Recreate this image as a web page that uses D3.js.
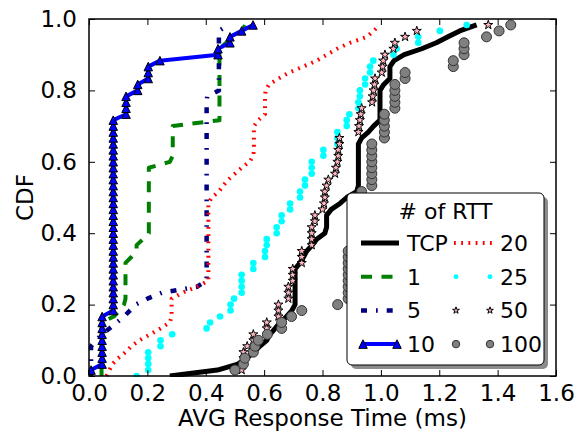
<!DOCTYPE html>
<html>
<head>
<meta charset="utf-8">
<script src="https://cdn.jsdelivr.net/npm/d3@7"></script>
<style>
  body { margin: 0; background: #fff; }
  svg { display: block; font-family: "DejaVu Sans", sans-serif; }
</style>
</head>
<body>
<div id="chart"></div>
<script>
// sorted AVG response times (ms) per setting
const tcpTimes = [0.277, 0.44, 0.51, 0.54, 0.565, 0.585, 0.609, 0.62, 0.638, 0.655, 0.677, 0.695,
  0.706, 0.706, 0.706, 0.706, 0.706, 0.706, 0.706,
  0.723, 0.735, 0.746, 0.765, 0.78, 0.808,
  0.814, 0.814, 0.814,
  0.83, 0.86, 0.883, 0.917,
  0.923, 0.923, 0.923, 0.923, 0.923, 0.923, 0.923, 0.923,
  0.934, 0.957, 0.975,
  0.997, 0.997, 0.997, 0.997, 0.997, 0.997,
  1.01, 1.031, 1.031, 1.031,
  1.045, 1.08, 1.14, 1.19, 1.23, 1.27, 1.328];
const rtt1Times = [0.043, 0.043, 0.043, 0.043, 0.043, 0.043, 0.043, 0.043, 0.043, 0.043,
  0.085, 0.105, 0.12,
  0.125, 0.125, 0.125, 0.125, 0.125, 0.125, 0.125,
  0.145, 0.163, 0.163, 0.185,
  0.205, 0.205, 0.205, 0.205, 0.205, 0.205, 0.205, 0.205, 0.205, 0.205, 0.205, 0.205,
  0.277,
  0.287, 0.287, 0.287, 0.287, 0.287, 0.287,
  0.447, 0.447, 0.447, 0.447, 0.447, 0.447, 0.447, 0.447, 0.447, 0.447, 0.447, 0.447, 0.447,
  0.47, 0.50, 0.525, 0.535];
const rtt5Times = [0.007, 0.007, 0.007, 0.007, 0.007, 0.007,
  0.025, 0.045, 0.07, 0.095, 0.12, 0.14, 0.16, 0.2, 0.25, 0.37,
  0.403, 0.403, 0.403, 0.403, 0.403, 0.403, 0.403, 0.403, 0.403, 0.403,
  0.403, 0.403, 0.403, 0.403, 0.403, 0.403, 0.403, 0.403, 0.403, 0.403,
  0.403, 0.403, 0.403, 0.403, 0.403, 0.403, 0.403, 0.403, 0.403, 0.403, 0.403,
  0.405,
  0.445, 0.445, 0.445, 0.445, 0.445, 0.445, 0.445, 0.445, 0.445, 0.445, 0.445,
  0.476];
const rtt10Times = [0.007,
  0.045, 0.045, 0.045, 0.045, 0.045, 0.045, 0.045, 0.045, 0.045,
  0.083, 0.083, 0.083, 0.083, 0.083, 0.083, 0.083, 0.083, 0.083, 0.083, 0.083,
  0.083, 0.083, 0.083, 0.083, 0.083, 0.083, 0.083, 0.083, 0.083, 0.083, 0.083,
  0.083, 0.083, 0.083, 0.083, 0.083, 0.083, 0.083, 0.083, 0.083, 0.083, 0.083,
  0.127, 0.127, 0.127, 0.127,
  0.167, 0.167,
  0.203, 0.203, 0.203,
  0.243, 0.442, 0.442, 0.483, 0.483, 0.523, 0.562];
const rtt20Times = [0.06, 0.07, 0.08, 0.10, 0.125, 0.145, 0.173, 0.21, 0.245, 0.277,
  0.283, 0.283, 0.283, 0.283,
  0.32, 0.37,
  0.409, 0.409, 0.409, 0.409, 0.409, 0.409, 0.409, 0.409, 0.409, 0.409, 0.409, 0.409, 0.409, 0.409,
  0.42, 0.445, 0.46, 0.477, 0.50, 0.523, 0.55, 0.563,
  0.565, 0.565, 0.565, 0.565, 0.565,
  0.58, 0.603, 0.603, 0.603, 0.603, 0.605,
  0.617, 0.65, 0.685, 0.734, 0.78, 0.815, 0.85, 0.894, 0.952, 0.975, 0.997];
const rtt25Times = [0.163, 0.203, 0.203, 0.203, 0.203, 0.245, 0.245, 0.285, 0.403, 0.415, 0.449,
  0.485, 0.485, 0.497, 0.523, 0.523, 0.523, 0.523, 0.563, 0.563, 0.603, 0.603,
  0.609, 0.609, 0.643, 0.643, 0.66, 0.66, 0.689, 0.689, 0.723, 0.723, 0.74, 0.74,
  0.763, 0.763, 0.763, 0.803, 0.803, 0.851, 0.851, 0.851, 0.883, 0.883, 0.892,
  0.923, 0.923, 0.928, 0.928, 0.946, 0.946, 0.963, 0.963, 0.974,
  1.043, 1.054, 1.128, 1.128, 1.202, 1.294];
const rtt50Times = [0.523, 0.529, 0.529, 0.529, 0.542, 0.563, 0.563, 0.609, 0.609,
  0.649, 0.649, 0.649, 0.683, 0.683, 0.683, 0.698, 0.698, 0.698, 0.729, 0.729, 0.729,
  0.763, 0.763, 0.763, 0.763, 0.774, 0.774, 0.80, 0.805, 0.808,
  0.808, 0.814, 0.82, 0.843, 0.846, 0.851, 0.854, 0.854, 0.858, 0.858,
  0.923, 0.925, 0.928, 0.931, 0.934,
  0.97, 0.972, 0.975, 0.978, 0.98,
  1.003, 1.006, 1.008, 1.014,
  1.043, 1.048, 1.083, 1.123, 1.368];
const rtt100Times = [0.50, 0.529, 0.534, 0.563, 0.569, 0.58, 0.611, 0.66, 0.66, 0.694, 0.729, 0.852,
  0.888, 0.888, 0.888, 0.888, 0.888, 0.888, 0.888, 0.888, 0.888,
  0.91, 0.91, 0.91, 0.91, 0.91, 0.91, 0.91, 0.91, 0.91,
  0.934,
  0.969, 0.969, 0.969, 0.969, 0.969, 0.969, 0.969, 0.969,
  1.012, 1.012, 1.012, 1.012, 1.012,
  1.048, 1.048, 1.048, 1.048, 1.048,
  1.083, 1.083, 1.248, 1.248, 1.285, 1.285, 1.285, 1.362, 1.405, 1.445];

const seriesLabels = ["TCP", "1", "5", "10", "20", "25", "50", "100"];
const seriesTimes = [tcpTimes, rtt1Times, rtt5Times, rtt10Times, rtt20Times, rtt25Times, rtt50Times, rtt100Times];
const firstRank = [0, 0, 0, 1, 0, 0, 1, 1]; // rank of the first sample (CDF step = 1/60)
const cdfSteps = 60;
const xTicks = [0, 0.2, 0.4, 0.6, 0.8, 1.0, 1.2, 1.4, 1.6];
const yTicks = [0, 0.2, 0.4, 0.6, 0.8, 1.0];

const W = 587, H = 446;
const margin = { top: 19, right: 31, bottom: 70, left: 89 };
const pw = W - margin.left - margin.right;
const ph = H - margin.top - margin.bottom;

// matplotlib-ish styles
const styles = {
  "TCP": { stroke: "#000", width: 5 },
  "1": { stroke: "#008000", width: 4, dash: "11,9.5" },
  "5": { stroke: "#000080", width: 4.5, dash: "6,9,1.7,9" },
  "10": { stroke: "#0000ff", width: 4, marker: "tri", fill: "#0000ff", size: 8.5 },
  "20": { stroke: "#ff0000", width: 4, dash: "1.8,5.4" },
  "25": { marker: "circle", fill: "#00ffff", edge: "none", size: 6.6 },
  "50": { marker: "star", fill: "#ffb6c1", size: 9.5 },
  "100": { marker: "circle", fill: "#808080", edge: "#333", size: 10 },
};

const svg = d3.select("#chart").append("svg").attr("width", W).attr("height", H);

const x = d3.scaleLinear().domain([0, 1.6]).range([0, pw]);
const y = d3.scaleLinear().domain([0, 1]).range([ph, 0]);

svg.append("defs").append("clipPath").attr("id", "plotclip")
  .append("rect").attr("x", -1).attr("y", -1).attr("width", pw + 2).attr("height", ph + 2);

const g = svg.append("g").attr("transform", `translate(${margin.left},${margin.top})`);

function markerPath(type, size) {
  const r = size / 2;
  if (type === "tri") {
    return `M0,${-r}L${-r},${r}L${r},${r}Z`;
  }
  if (type === "star") {
    const inner = r * 0.381966;
    let p = "";
    for (let k = 0; k < 10; k++) {
      const rad = k % 2 === 0 ? r : inner;
      const a = -Math.PI / 2 + k * Math.PI / 5;
      p += (k === 0 ? "M" : "L") + (rad * Math.cos(a)).toFixed(2) + "," + (rad * Math.sin(a)).toFixed(2);
    }
    return p + "Z";
  }
  return d3.symbol(d3.symbolCircle, Math.PI * r * r)();
}

const plot = g.append("g").attr("clip-path", "url(#plotclip)");

seriesLabels.forEach((label, si) => {
  const st = styles[label];
  const pts = seriesTimes[si].map((t, i) => ({ x: t, y: (i + firstRank[si]) / cdfSteps }));
  if (st.stroke) {
    plot.append("path")
      .datum(pts)
      .attr("fill", "none")
      .attr("stroke", st.stroke)
      .attr("stroke-width", st.width)
      .attr("stroke-dasharray", st.dash || null)
      .attr("stroke-linejoin", "round")
      .attr("d", d3.line().x(d => x(d.x)).y(d => y(d.y)));
  }
  if (st.marker) {
    plot.append("g").selectAll("path")
      .data(pts)
      .join("path")
      .attr("transform", d => `translate(${x(d.x)},${y(d.y)})`)
      .attr("d", markerPath(st.marker, st.size))
      .attr("fill", st.fill)
      .attr("stroke", st.edge === undefined ? "#000" : st.edge)
      .attr("stroke-width", 1);
  }
});

// axes: inward ticks on all four sides, matplotlib classic look
const tickLen = 6;
const axisFont = 23;
g.append("g").attr("transform", `translate(0,${ph})`)
  .call(d3.axisBottom(x).tickValues(xTicks).tickFormat(d3.format(".1f")).tickSizeInner(-tickLen).tickSizeOuter(0).tickPadding(9))
  .call(a => a.select(".domain").remove());
g.append("g")
  .call(d3.axisTop(x).tickValues(xTicks).tickFormat("").tickSizeInner(-tickLen).tickSizeOuter(0))
  .call(a => a.select(".domain").remove());
g.append("g")
  .call(d3.axisLeft(y).tickValues(yTicks).tickFormat(d3.format(".1f")).tickSizeInner(-tickLen).tickSizeOuter(0).tickPadding(12))
  .call(a => a.select(".domain").remove());
g.append("g").attr("transform", `translate(${pw},0)`)
  .call(d3.axisRight(y).tickValues(yTicks).tickFormat("").tickSizeInner(-tickLen).tickSizeOuter(0))
  .call(a => a.select(".domain").remove());

g.selectAll(".tick line").attr("stroke", "#000").attr("stroke-width", 1);
g.selectAll(".tick text")
  .attr("font-family", "DejaVu Sans")
  .attr("font-size", axisFont)
  .attr("fill", "#000");

g.append("rect")
  .attr("width", pw).attr("height", ph)
  .attr("fill", "none").attr("stroke", "#000").attr("stroke-width", 1.5);

svg.append("text")
  .attr("x", margin.left + pw / 2)
  .attr("y", 426)
  .attr("text-anchor", "middle")
  .attr("font-size", axisFont)
  .text("AVG Response Time (ms)");

svg.append("text")
  .attr("transform", `translate(33,${margin.top + ph / 2}) rotate(-90)`)
  .attr("text-anchor", "middle")
  .attr("font-size", axisFont)
  .text("CDF");

// legend
const lg = svg.append("g").attr("transform", "translate(347,193)");
const lw = 197, lh = 172;
lg.append("rect").attr("x", 4).attr("y", 4).attr("width", lw).attr("height", lh)
  .attr("rx", 5).attr("fill", "#8c8c8c");
lg.append("rect").attr("width", lw).attr("height", lh)
  .attr("rx", 5).attr("fill", "#fff").attr("stroke", "#000").attr("stroke-width", 1);
const legFont = 22;
lg.append("text").attr("x", lw / 2).attr("y", 26).attr("text-anchor", "middle")
  .attr("font-size", legFont).text("# of RTT");

seriesLabels.forEach((label, si) => {
  const st = styles[label];
  const col = Math.floor(si / 4), row = si % 4;
  const x0 = col === 0 ? 14 : 107;
  const x1 = x0 + 38;
  const cy = 50 + row * 33.7;
  const item = lg.append("g");
  if (st.stroke) {
    item.append("line")
      .attr("x1", x0).attr("x2", x1).attr("y1", cy).attr("y2", cy)
      .attr("stroke", st.stroke).attr("stroke-width", st.width)
      .attr("stroke-dasharray", st.dash || null);
  }
  if (st.marker) {
    const ms = st.marker === "tri" ? st.size : st.size * 0.75;
    [x0 + 2, x1 - 2].forEach(mx => {
      item.append("path")
        .attr("transform", `translate(${mx},${cy})`)
        .attr("d", markerPath(st.marker, ms))
        .attr("fill", st.fill)
        .attr("stroke", st.edge === undefined ? "#000" : st.edge)
        .attr("stroke-width", 1);
    });
  }
  item.append("text")
    .attr("x", x1 + 8).attr("y", cy + 8)
    .attr("font-size", legFont)
    .text(label);
});
</script>
</body>
</html>
